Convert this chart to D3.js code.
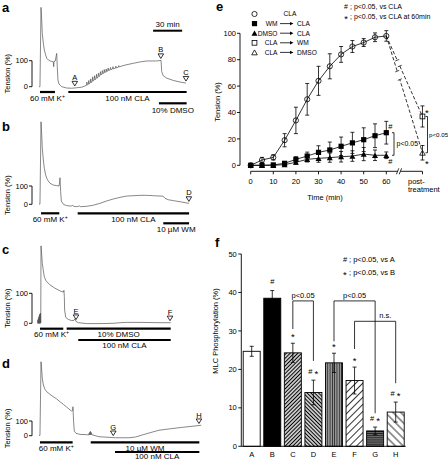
<!DOCTYPE html>
<html><head><meta charset="utf-8">
<script src="https://cdn.jsdelivr.net/npm/d3@7"></script>
<style>
html,body{margin:0;padding:0;background:#fff;}
svg{display:block;font-family:"Liberation Sans",Arial,Helvetica,sans-serif;}
</style></head><body>
<svg id="chart" width="448" height="460"></svg>
<script>
// ---------------- DATA ----------------
// Tension traces (time in min, tension in %)
const traceA = [[0,0],[1,0],[2.1,305],[2.8,256],[3.4,205],[4.5,167],[5.5,141],[6.9,122],[8,109],[9.6,103],[11.4,99],[13.1,97],[14.8,96],[15.2,77],[15.5,97],[16.9,99],[17.6,115],[18.3,128],[18.9,77],[19.6,26],[20.7,10],[23.5,0],[28.6,-5],[33.8,-6],[39,-4],[44.2,-2],[47.6,3],
[49,5],[49.5,18],[50,7],[51,9],[51.5,24],[52,11],[53,14],[53.5,30],[54,16],[55,19],[55.5,38],[56,22],[57,25],[57.5,42],[58,27],[59,30],[59.5,48],[60,33],[61,36],[61.5,52],[62,39],[63,42],[63.5,58],[64,45],[65,48],[65.5,62],[66,50],[67,52],[67.5,66],[68,54],[69,56],[69.5,68],[70,58],[71,60],[71.5,72],[72,62],[73.4,64],[74,74],[74.5,65],[76,68],[76.5,77],[77,69],[79,71],[79.5,79],[80,72],[82,75],[82.5,81],[83,76],[86,80],[90,84],[97.5,90],[104,95],[111.4,99],[121.7,99],[126.2,101],
[126.9,58],[128.5,42],[132,33],[138.9,24],[145.8,18],[152,14]];
const traceB = [[0,0],[1,2],[2.1,451],[2.8,379],[3.4,306],[4.5,242],[5.5,197],[6.9,160],[8,142],[9.6,127],[11.4,115],[14.8,105],[18.3,102],[20.7,100],[21.4,123],[21.7,145],[22.4,69],[23.1,18],[25.2,0],[28.6,-7],[33,-10],[35,-6],[36,-11],[39,-13],[42,-9],[43,-13],[49.3,-11],[56.2,-5],[63,5],[69.9,18],[76.8,29],[83.8,38],[90.7,45],[97.5,47],[104.4,49],[111.4,49],[118.3,47],[125.2,45],[128.5,44],[130.3,33],[133.7,25],[138.9,20],[145.8,14],[151,9],[155.1,5]];
const traceC = [[-1.4,0],[-1.2,10],[-1,0],[-0.8,14],[-0.6,0],[-0.4,18],[-0.2,0],[0,22],[0.2,0],[0.4,26],[0.6,0],[0.8,30],[1,0],[1.2,32],[1.4,0],[1.6,34],[1.8,2],[2.1,258],[2.8,228],[3.4,200],[4.5,175],[5.5,155],[6.9,144],[8,139],[11.4,128],[16.5,117],[21.7,108],[25.2,104],[25.8,110],[26.2,89],[26.5,44],[27.6,20],[30.3,13],[33.8,9],[36.2,10],[37.2,15],[38.3,6],[40.7,2],[49.3,-1],[63,-1],[76.8,0],[83.8,2],[90.7,3],[104.4,3],[125.2,2],[136.2,2]];
const traceD = [[0,0],[1,2],[2.1,503],[2.8,447],[3.4,390],[4.5,345],[6.2,315],[8,299],[11.4,281],[14.8,265],[18.3,250],[21.7,231],[25.2,213],[28.6,195],[32.1,175],[33.8,168],[34.8,170],[35.1,197],[35.8,95],[36.5,32],[38.3,16],[42.4,9],[49.3,7],[51.4,5],[51.8,16],[52.1,6],[52.5,24],[52.8,6],[53.2,30],[53.5,7],[53.9,22],[54.2,7],[54.6,13],[55,6],[62,-7],[79.2,-14],[93,-14],[99.9,-9],[106.8,5],[113.6,18],[124,37],[134.4,46],[148.2,57],[158.5,64],[167.8,71]];

const markersA = [{label:"A",t:37},{label:"B",t:126},{label:"C",t:152}];
const markersB = [{label:"D",t:155}];
const markersC = [{label:"E",t:38.3},{label:"F",t:135.5}];
const markersD = [{label:"G",t:76.8},{label:"H",t:165.4}];

const barsA = [{label:"60 mM K",sup:"+",from:1,to:16.5,row:0},{label:"100 nM CLA",from:30.3,to:152.7,row:0},{label:"10% DMSO",from:124,to:152.7,row:1}];
const barsB = [{label:"60 mM K",sup:"+",from:2.1,to:21,row:0},{label:"100 nM CLA",from:40,to:155.2,row:0},{label:"10 µM WM",from:128.5,to:155.2,row:1}];
const barsC = [{label:"60 mM K",sup:"+",from:1,to:25.1,row:0},{label:"10% DMSO",from:28.6,to:136.2,row:0},{label:"100 nM CLA",from:40.6,to:136.2,row:1}];
const barsD = [{label:"60 mM K",sup:"+",from:1,to:34.8,row:0},{label:"10 µM WM",from:53.5,to:165.8,row:0},{label:"100 nM CLA",from:78.6,to:165.8,row:1}];
const tensionTicks = [0,100];

// Panel e: time course
const timesE = [0,5,10,15,20,25,30,35,40,45,50,55,60];
const claMean = [0,4,6,19,34,50,64,75,84,90,93,97,98];
const claErr  = [0,2,2,5,10,12,11,9.5,6,4.5,3,3.3,4];
const wmMean  = [0,0,0.3,1.5,4.5,7,9.8,11.6,14.4,17,19.4,22.4,24.7];
const wmErr   = [0,0,0.5,1,2,3,5,6,7,8,9,9,8.6];
const dmsoMean= [0,0,0,0.5,2.3,4.5,5.3,5.8,6.5,7,8.5,7.6,7.6];
const dmsoErr = [0,0,0.3,0.5,1.5,2,3,3.5,4,4,5,4,2.5];
const postT = 76; // position of "post-treatment"
const postWM = {mean:37, err:8};     // CLA -> WM
const postDMSO = {mean:9.5, err:5.5}; // CLA -> DMSO
const ticksEy = [0,20,40,60,80,100];
const ticksEx = [0,10,20,30,40,50,60];

// Panel f: MLC phosphorylation
const catsF = ["A","B","C","D","E","F","G","H"];
const meanF = [24.7,38.5,24.3,14.0,21.7,17.1,4.0,8.9];
const errF  = [1.3,2.0,2.5,3.2,2.5,3.5,1.0,2.6];
const marksF= ["","#","*","#*","*","*","#*","#*"];
const fillF = ["white","black","hatchC","hatchD","hatchE","hatchF","hatchG","hatchH"];
const ticksFy = [0,10,20,30,40,50];
const bracketsF = [
  {left:"C",right:"D",y:37.8,leftEnd:30.5,rightEnd:22.2,text:"p<0.05",textBetween:["C","D"]},
  {left:"E",right:"G",y:37.8,leftEnd:27.3,rightEnd:8.6,text:"p<0.05",textBetween:["E","G"]},
  {left:"F",right:"H",y:32.5,leftEnd:25.3,rightEnd:16.4,text:"n.s.",textBetween:["G","H"]}
];

// ---------------- DRAW ----------------
const svg = d3.select("#chart");
const defs = svg.append("defs");
function hatch(id, size, angle, sw, color, bg){
  const p = defs.append("pattern").attr("id",id).attr("patternUnits","userSpaceOnUse")
    .attr("width",size).attr("height",size).attr("patternTransform",`rotate(${angle})`);
  p.append("rect").attr("width",size).attr("height",size).attr("fill",bg);
  p.append("line").attr("x1",size/2).attr("y1",-1).attr("x2",size/2).attr("y2",size+1)
    .attr("stroke",color).attr("stroke-width",sw);
}
hatch("hatchC",2.7,45,1.3,"#000","#fff");
hatch("hatchD",2.7,-45,1.3,"#000","#fff");
hatch("hatchE",2.3,0,1.0,"#222","#aaa");
hatch("hatchF",5,45,0.8,"#000","#fff");
hatch("hatchG",2.1,90,1.1,"#111","#888");
hatch("hatchH",5.5,-45,0.8,"#000","#fff");

function txt(g,x,y,s,size,anchor){
  return g.append("text").attr("x",x).attr("y",y).attr("font-size",size||7.5)
    .attr("text-anchor",anchor||"start").attr("fill","#000").text(s);
}
function markText(g,str,cx,yc,size){
  const chars = str.replace(/\s/g,"").split("");
  const w = size*0.6, gap = size*0.2;
  const total = chars.length*w + (chars.length-1)*gap;
  let x = cx - total/2;
  chars.forEach(ch=>{
    const star = ch==="*";
    g.append("text").attr("x",x+w/2).attr("y", star? yc+size*0.78 : yc+size*0.36)
      .attr("text-anchor","middle").attr("font-size", star? size*1.3 : size).text(ch);
    x += w+gap;
  });
}
function triPath(cx,cy,s,down){
  const h=s*0.87;
  return down ? `M${cx-s/2},${cy-h/2}L${cx+s/2},${cy-h/2}L${cx},${cy+h/2}Z`
              : `M${cx-s/2},${cy+h/2}L${cx+s/2},${cy+h/2}L${cx},${cy-h/2}Z`;
}
function drawSym(g,type,cx,cy){
  if(type==="circleOpen") g.append("circle").attr("cx",cx).attr("cy",cy).attr("r",2.6).attr("fill","none").attr("stroke","#000").attr("stroke-width",0.8);
  if(type==="squareFilled") g.append("rect").attr("x",cx-2.6).attr("y",cy-2.6).attr("width",5.2).attr("height",5.2).attr("fill","#000");
  if(type==="triFilled") g.append("path").attr("d",triPath(cx,cy,6,false)).attr("fill","#000");
  if(type==="squareOpen") g.append("rect").attr("x",cx-2.4).attr("y",cy-2.4).attr("width",4.8).attr("height",4.8).attr("fill","none").attr("stroke","#000").attr("stroke-width",0.8);
  if(type==="triOpen") g.append("path").attr("d",triPath(cx,cy,5.6,false)).attr("fill","none").attr("stroke","#000").attr("stroke-width",0.8);
}
function interp(tr,t){
  if(t<=tr[0][0]) return tr[0][1];
  for(let i=0;i<tr.length-1;i++){
    if(t>=tr[i][0] && t<=tr[i+1][0]){
      const f=(t-tr[i][0])/(tr[i+1][0]-tr[i][0]);
      return tr[i][1]+f*(tr[i+1][1]-tr[i][1]);
    }
  }
  return tr[tr.length-1][1];
}

// ----- panels a-d -----
const xT = d3.scaleLinear().domain([0,160]).range([39,39+160*0.967]);
const panels = [
  {letter:"a",trace:traceA,markers:markersA,bars:barsA,y0:86.7,y100:60.7,rows:[92,103.3],labelDy:9.3,letterY:11.5,scaleBar:true},
  {letter:"b",trace:traceB,markers:markersB,bars:barsB,y0:204.3,y100:186,rows:[213.3,223.3],labelDy:8.3,letterY:131},
  {letter:"c",trace:traceC,markers:markersC,bars:barsC,y0:323.3,y100:293.3,rows:[328.7,340],labelDy:8.4,letterY:254},
  {letter:"d",trace:traceD,markers:markersD,bars:barsD,y0:435.7,y100:421,rows:[442.3,452],labelDy:8.2,letterY:367.7}
];
panels.forEach(p=>{
  const y = d3.scaleLinear().domain([0,100]).range([p.y0,p.y100]);
  const g = svg.append("g");
  g.append("text").attr("x",2).attr("y",p.letterY).attr("font-size",13).attr("font-weight","bold").text(p.letter);
  // y axis
  const ax=32;
  g.append("line").attr("x1",ax).attr("x2",ax).attr("y1",y(100)).attr("y2",y(0)).attr("stroke","#000").attr("stroke-width",0.9);
  tensionTicks.forEach(v=>{
    g.append("line").attr("x1",ax-3).attr("x2",ax).attr("y1",y(v)).attr("y2",y(v)).attr("stroke","#000").attr("stroke-width",0.9);
    txt(g,ax-4,y(v)+2.6,String(v),7.5,"end");
  });
  g.append("text").attr("transform",`translate(10,${(y(0)+y(100))/2}) rotate(-90)`)
    .attr("text-anchor","middle").attr("font-size",7.5).text("Tension (%)");
  // trace
  const line = d3.line().x(d=>xT(d[0])).y(d=>y(d[1]));
  g.append("path").datum(p.trace).attr("d",line).attr("fill","none").attr("stroke","#555").attr("stroke-width",0.7).attr("stroke-linejoin","round");
  // markers
  p.markers.forEach(m=>{
    const tip = y(interp(p.trace,m.t)) - 2;
    const cx = xT(m.t);
    g.append("path").attr("d",`M${cx-2.8},${tip-4.6}L${cx+2.8},${tip-4.6}L${cx},${tip}Z`).attr("fill","#fff").attr("stroke","#000").attr("stroke-width",0.8);
    txt(g,cx,tip-6,m.label,7.5,"middle");
  });
  // treatment bars
  p.bars.forEach(b=>{
    const yy = p.rows[b.row];
    g.append("line").attr("x1",xT(b.from)).attr("x2",xT(b.to)).attr("y1",yy).attr("y2",yy).attr("stroke","#000").attr("stroke-width",2.2);
    const ty = Math.min(yy+p.labelDy, 459);
    const t = g.append("text").attr("x",(xT(b.from)+xT(b.to))/2).attr("y",ty).attr("font-size",8).attr("text-anchor","middle");
    t.append("tspan").text(b.label);
    if(b.sup) t.append("tspan").attr("font-size",5.2).attr("dy",-3).text(b.sup);
  });
  if(p.scaleBar){
    g.append("line").attr("x1",xT(118)).attr("x2",xT(148)).attr("y1",30.7).attr("y2",30.7).attr("stroke","#000").attr("stroke-width",2);
    txt(g,(xT(118)+xT(148))/2,27,"30 min",8,"middle");
  }
});

// ----- panel e -----
(function(){
  const g = svg.append("g");
  const xE = d3.scaleLinear().domain([0,60]).range([250.7,386.3]);
  const yE = d3.scaleLinear().domain([0,100]).range([165.3,33.3]);
  g.append("text").attr("x",216).attr("y",11).attr("font-size",13).attr("font-weight","bold").text("e");
  // y axis
  const ax=240;
  g.append("line").attr("x1",ax).attr("x2",ax).attr("y1",yE(100)).attr("y2",yE(0)).attr("stroke","#000").attr("stroke-width",0.9);
  ticksEy.forEach(v=>{
    g.append("line").attr("x1",ax-3).attr("x2",ax).attr("y1",yE(v)).attr("y2",yE(v)).attr("stroke","#000").attr("stroke-width",0.9);
    txt(g,ax-4,yE(v)+2.6,String(v),7.5,"end");
  });
  g.append("text").attr("transform",`translate(220,102) rotate(-90)`).attr("text-anchor","middle").attr("font-size",7.5).text("Tension (%)");
  // x axis with break
  const xa=171.3;
  g.append("line").attr("x1",xE(0)).attr("x2",397.6).attr("y1",xa).attr("y2",xa).attr("stroke","#000").attr("stroke-width",0.9);
  g.append("line").attr("x1",400.4).attr("x2",xE(postT)).attr("y1",xa).attr("y2",xa).attr("stroke","#000").attr("stroke-width",0.9);
  [397.6,400.4].forEach(bx=>g.append("line").attr("x1",bx-1.2).attr("x2",bx+1.2).attr("y1",xa+3).attr("y2",xa-3).attr("stroke","#000").attr("stroke-width",0.8));
  ticksEx.concat([postT]).forEach(v=>{
    g.append("line").attr("x1",xE(v)).attr("x2",xE(v)).attr("y1",xa).attr("y2",xa+3).attr("stroke","#000").attr("stroke-width",0.9);
  });
  ticksEx.forEach(v=>txt(g,xE(v),183.5,String(v),7.5,"middle"));
  txt(g,408,183.5,"post-",7.5,"start");
  txt(g,408,191.5,"treatment",7.5,"start");
  txt(g,325,200,"Time (min)",7.5,"middle");

  // error bars
  function errBars(means,errs){
    timesE.forEach((t,i)=>{
      if(errs[i]<=0.6) return;
      const x=xE(t), y1=yE(means[i]+errs[i]), y2=yE(means[i]-errs[i]);
      g.append("line").attr("x1",x).attr("x2",x).attr("y1",y1).attr("y2",y2).attr("stroke","#000").attr("stroke-width",0.8);
      [y1,y2].forEach(yy=>g.append("line").attr("x1",x-2).attr("x2",x+2).attr("y1",yy).attr("y2",yy).attr("stroke","#000").attr("stroke-width",0.8));
    });
  }
  errBars(claMean,claErr); errBars(wmMean,wmErr); errBars(dmsoMean,dmsoErr);
  [postWM,postDMSO].forEach(pp=>{
    const x=xE(postT), y1=yE(pp.mean+pp.err), y2=yE(pp.mean-pp.err);
    g.append("line").attr("x1",x).attr("x2",x).attr("y1",y1).attr("y2",y2).attr("stroke","#000").attr("stroke-width",0.8);
    [y1,y2].forEach(yy=>g.append("line").attr("x1",x-2).attr("x2",x+2).attr("y1",yy).attr("y2",yy).attr("stroke","#000").attr("stroke-width",0.8));
  });
  // lines
  const ln = d3.line().x(d=>xE(d[0])).y(d=>yE(d[1]));
  [claMean,wmMean,dmsoMean].forEach(m=>{
    g.append("path").datum(timesE.map((t,i)=>[t,m[i]])).attr("d",ln).attr("fill","none").attr("stroke","#000").attr("stroke-width",0.8);
  });
  // dashed post-treatment lines
  [postWM,postDMSO].forEach(pp=>{
    g.append("path").datum([[60,claMean[12]],[postT,pp.mean]]).attr("d",ln).attr("fill","none").attr("stroke","#000").attr("stroke-width",0.8).attr("stroke-dasharray","3.5,2");
    const x0=xE(60),y0=yE(claMean[12]),x1=xE(postT),y1=yE(pp.mean);
    const yAt = x=> y0+(x-x0)/(x1-x0)*(y1-y0);
    g.append("line").attr("x1",397.2).attr("x2",399.8).attr("y1",yAt(397.2)).attr("y2",yAt(399.8)).attr("stroke","#fff").attr("stroke-width",2.5);
    [397.2,399.8].forEach(bx=>g.append("line").attr("x1",bx-2).attr("x2",bx+2).attr("y1",yAt(bx)+0.8).attr("y2",yAt(bx)-0.8).attr("stroke","#000").attr("stroke-width",0.7));
  });
  // symbols
  timesE.forEach((t,i)=>{
    drawSym(g,"circleOpen",xE(t),yE(claMean[i]));
    drawSym(g,"squareFilled",xE(t),yE(wmMean[i]));
    drawSym(g,"triFilled",xE(t),yE(dmsoMean[i]));
  });
  drawSym(g,"squareOpen",xE(postT),yE(postWM.mean));
  drawSym(g,"triOpen",xE(postT),yE(postDMSO.mean));
  // significance annotations
  markText(g,"#",xE(60)+4,yE(wmMean[12]+8.6)+5,7.5);
  markText(g,"#",xE(60)+4,yE(dmsoMean[12]-2.5)+3,7.5);
  const bx1=394, yt1=yE(wmMean[12]), yb1=yE(dmsoMean[12]);
  g.append("path").attr("d",`M${bx1-2},${yt1}H${bx1}V${yb1}H${bx1-2}`).attr("fill","none").attr("stroke","#000").attr("stroke-width",0.8);
  txt(g,bx1+2.5,146,"p<0.05",7,"start");
  markText(g,"*",xE(postT)+4.5,yE(postWM.mean+postWM.err)+4,7.5);
  markText(g,"*",xE(postT)+4.5,yE(postDMSO.mean-postDMSO.err)+1,7.5);
  const bx2=427.5, yt2=yE(postWM.mean), yb2=yE(postDMSO.mean);
  g.append("path").attr("d",`M${bx2-2},${yt2}H${bx2}V${yb2}H${bx2-2}`).attr("fill","none").attr("stroke","#000").attr("stroke-width",0.8);
  txt(g,bx2+1.5,136.5,"p<0.05",6.2,"start");
  // legend
  const leg = [
    {sym:"circleOpen",pre:"",post:"CLA"},
    {sym:"squareFilled",pre:"WM",post:"CLA"},
    {sym:"triFilled",pre:"DMSO",post:"CLA"},
    {sym:"squareOpen",pre:"CLA",post:"WM"},
    {sym:"triOpen",pre:"CLA",post:"DMSO"}
  ];
  leg.forEach((d,i)=>{
    const yy = 14+i*9.6;
    drawSym(g,d.sym,254.5,yy);
    if(!d.pre){ txt(g,290,yy+2.4,d.post,6.6,"middle"); return; }
    txt(g,277.5,yy+2.4,d.pre,6.6,"end");
    g.append("line").attr("x1",280).attr("x2",290).attr("y1",yy).attr("y2",yy).attr("stroke","#000").attr("stroke-width",0.8);
    g.append("path").attr("d",`M290,${yy-1.7}L293.5,${yy}L290,${yy+1.7}Z`).attr("fill","#000");
    txt(g,297,yy+2.4,d.post,6.6,"start");
  });
  markText(g,"#",346,6,7);
  txt(g,350,8.5,"; p<0.05, vs CLA",7,"start");
  markText(g,"*",346,16.5,7);
  txt(g,350,19,"; p<0.05, vs CLA at 60min",7,"start");
})();

// ----- panel f -----
(function(){
  const g = svg.append("g");
  const xF = d3.scalePoint().domain(catsF).range([251.7,395.7]);
  const yF = d3.scaleLinear().domain([0,50]).range([446.3,254]);
  const bw = 17;
  g.append("text").attr("x",215).attr("y",246.7).attr("font-size",13).attr("font-weight","bold").text("f");
  const ax=241.3;
  ticksFy.forEach(v=>{
    g.append("line").attr("x1",ax-3).attr("x2",ax).attr("y1",yF(v)).attr("y2",yF(v)).attr("stroke","#000").attr("stroke-width",0.9);
    txt(g,ax-4.5,yF(v)+2.6,String(v),7.5,"end");
  });
  g.append("text").attr("transform",`translate(218,331) rotate(-90)`).attr("text-anchor","middle").attr("font-size",7.5).text("MLC Phosphorylation (%)");
  // bars
  catsF.forEach((c,i)=>{
    const f = fillF[i].startsWith("hatch") ? `url(#${fillF[i]})` : fillF[i];
    g.append("rect").attr("x",xF(c)-bw/2).attr("y",yF(meanF[i])).attr("width",bw).attr("height",yF(0)-yF(meanF[i]))
      .attr("fill",f).attr("stroke","#000").attr("stroke-width",0.9);
    const x=xF(c), y1=yF(meanF[i]+errF[i]), y2=yF(meanF[i]-errF[i]);
    g.append("line").attr("x1",x).attr("x2",x).attr("y1",y1).attr("y2",y2).attr("stroke","#000").attr("stroke-width",0.8);
    [y1,y2].forEach(yy=>g.append("line").attr("x1",x-2).attr("x2",x+2).attr("y1",yy).attr("y2",yy).attr("stroke","#000").attr("stroke-width",0.8));
    if(marksF[i]) markText(g,marksF[i],x,y1-9,7.5);
    txt(g,x,456.7,c,7.5,"middle");
  });
  // axes lines
  g.append("line").attr("x1",ax).attr("x2",ax).attr("y1",yF(50)).attr("y2",yF(0)).attr("stroke","#000").attr("stroke-width",0.9);
  g.append("line").attr("x1",ax).attr("x2",405.7).attr("y1",yF(0)).attr("y2",yF(0)).attr("stroke","#000").attr("stroke-width",0.9);
  // brackets
  bracketsF.forEach(b=>{
    const xl=xF(b.left), xr=xF(b.right), yy=yF(b.y);
    g.append("path").attr("d",`M${xl},${yF(b.leftEnd)}V${yy}H${xr}V${yF(b.rightEnd)}`).attr("fill","none").attr("stroke","#000").attr("stroke-width",0.8);
    const tx=(xF(b.textBetween[0])+xF(b.textBetween[1]))/2;
    txt(g,tx,yy-3.2,b.text,7.5,"middle");
  });
  // legend
  markText(g,"#",345,259.5,7.5);
  txt(g,349,262.3,"; p<0.05, vs A",7.5,"start");
  markText(g,"*",345,272,7.5);
  txt(g,349,274.8,"; p<0.05, vs B",7.5,"start");
})();
</script>
</body></html>
